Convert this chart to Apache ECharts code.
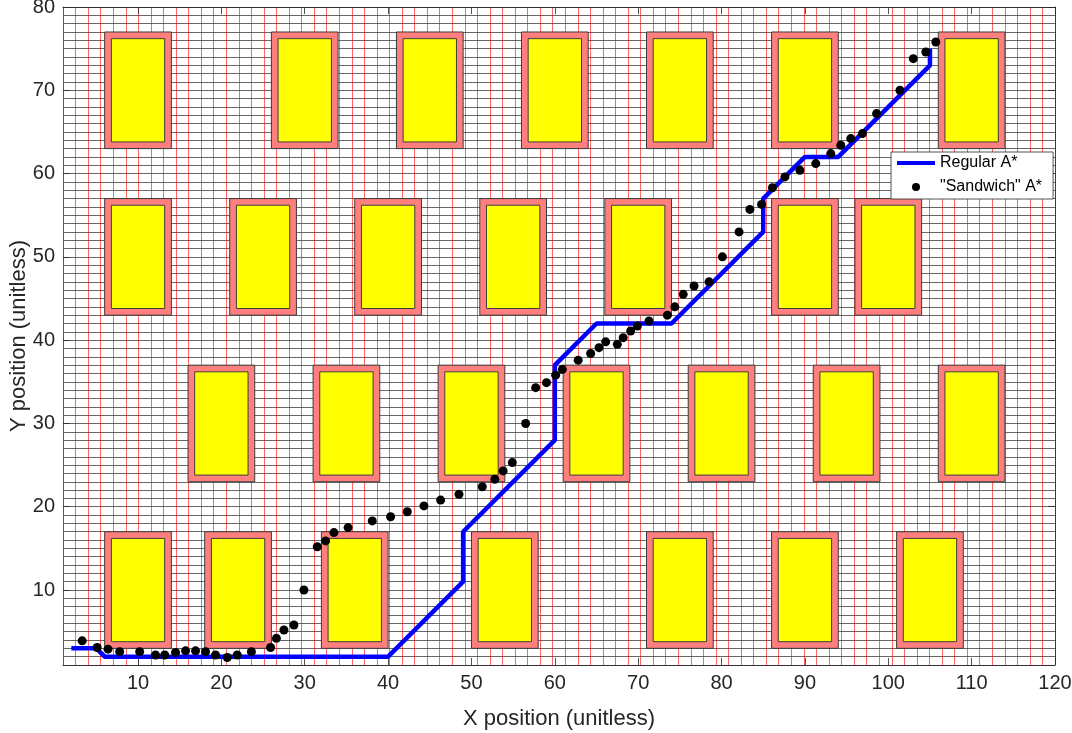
<!DOCTYPE html>
<html>
<head>
<meta charset="utf-8">
<script src="https://cdn.jsdelivr.net/npm/echarts@6/dist/echarts.min.js"></script>
<style>
html, body { margin: 0; padding: 0; background: #fff; }
#chart { width: 1072px; height: 733px; }
</style>
</head>
<body>
<div id="chart"></div>
<script>
// obstacle centres (4 rows of 7)
var obsX = [10, 30, 45, 60, 75, 90, 110,
            10, 25, 40, 55, 70, 90, 100,
            20, 35, 50, 65, 80, 95, 110,
            10, 22, 36, 54, 75, 90, 105];
var obsY = [70, 70, 70, 70, 70, 70, 70,
            50, 50, 50, 50, 50, 50, 50,
            30, 30, 30, 30, 30, 30, 30,
            10, 10, 10, 10, 10, 10, 10];

// regular A* path vertices
var regX = [2, 5, 6, 40, 49, 49, 60, 60, 65, 74, 85, 85, 90, 94, 105, 105];
var regY = [3, 3, 2, 2, 11, 17, 28, 37, 42, 42, 53, 57, 62, 62, 73, 75];

// "sandwich" A* points
var sandX = [3.3, 5.1, 6.4, 7.8, 10.2, 12.1, 13.2, 14.5, 15.7, 16.9, 18.1, 19.3, 20.7, 21.9, 23.6, 25.9, 26.6, 27.5, 28.7, 29.9,
             31.5, 32.5, 33.5, 35.2, 38.1, 40.3, 42.3, 44.3, 46.3, 48.5, 51.3, 52.8, 53.8, 54.9, 56.5,
             57.7, 59.0, 60.1, 60.9, 62.8, 64.3, 65.3, 66.1, 67.5, 68.2, 69.1, 69.9, 71.3, 73.5, 74.4, 75.4, 76.7, 78.5, 80.1, 82.1, 83.4, 84.8, 86.1,
             87.6, 89.4, 91.3, 93.1, 94.3, 95.5, 96.9, 98.6, 101.4, 103.0, 104.5, 105.7];
var sandY = [3.9, 3.1, 2.9, 2.6, 2.6, 2.2, 2.2, 2.5, 2.7, 2.7, 2.6, 2.2, 1.9, 2.2, 2.6, 3.1, 4.2, 5.2, 5.8, 10.0,
             15.2, 15.9, 16.9, 17.5, 18.3, 18.8, 19.4, 20.1, 20.8, 21.5, 22.4, 23.3, 24.3, 25.3, 30.0,
             34.3, 34.9, 35.8, 36.5, 37.6, 38.4, 39.1, 39.8, 39.5, 40.3, 41.1, 41.7, 42.3, 43.0, 44.0, 45.5, 46.5, 47.0, 50.0, 53.0, 55.7, 56.3, 58.3,
             59.6, 60.4, 61.2, 62.4, 63.4, 64.2, 64.8, 67.2, 70.0, 73.8, 74.6, 75.8];

// tick labels
var xTicks = [10, 20, 30, 40, 50, 60, 70, 80, 90, 100, 110, 120];
var yTicks = [10, 20, 30, 40, 50, 60, 70, 80];

// mesh size (nodes per direction)
var meshCols = 80;
var meshRows = 80;

var X_MIN = 1, X_MAX = 120, Y_MIN = 1, Y_MAX = 80;
var FONT = '"Liberation Sans", Arial, Helvetica, sans-serif';
var AXIS_COL = '#262626';

// obstacle half sizes
var OUT_W = 4, OUT_H = 7, IN_W = 3.2, IN_H = 6.2;

function rectFrom(api, cx, cy, hw, hh) {
  var p0 = api.coord([cx - hw, cy + hh]);
  var p1 = api.coord([cx + hw, cy - hh]);
  return { x: p0[0], y: p0[1], width: p1[0] - p0[0], height: p1[1] - p0[1] };
}

var obstacleData = obsX.map(function (x, i) { return [x, obsY[i]]; });
var regData = regX.map(function (x, i) { return [x, regY[i]]; });
var sandData = sandX.map(function (x, i) { return [x, sandY[i]]; });

var labelStyle = { fontSize: 20, color: AXIS_COL, fontFamily: FONT };

var option = {
  animation: false,
  backgroundColor: '#fff',
  grid: { left: 63, right: 17, top: 7, bottom: 68, outerBoundsMode: 'none', containLabel: false },
  legend: {
    orient: 'vertical',
    left: 891,
    top: 152,
    padding: [3, 11, 4, 4],
    itemWidth: 38,
    itemHeight: 8,
    itemGap: 8,
    backgroundColor: '#fff',
    borderColor: AXIS_COL,
    borderWidth: 0.8,
    borderRadius: 0,
    textStyle: { fontSize: 16, color: '#000', fontFamily: FONT },
    data: [
      { name: 'Regular A*', itemStyle: { opacity: 0 }, lineStyle: { width: 4, color: '#0000ff' } },
      { name: '"Sandwich" A*' }
    ]
  },
  xAxis: [
    {
      type: 'value', min: X_MIN, max: X_MAX, position: 'bottom',
      name: 'X position (unitless)', nameLocation: 'middle', nameGap: 43, nameMoveOverlap: false,
      nameTextStyle: { fontSize: 22, color: AXIS_COL, fontFamily: FONT },
      axisLine: { show: true, lineStyle: { color: AXIS_COL, width: 0.8 } },
      axisTick: { show: true, inside: true, length: 7, customValues: xTicks, lineStyle: { color: AXIS_COL, width: 0.8 } },
      axisLabel: Object.assign({ margin: 8, customValues: xTicks }, labelStyle),
      splitLine: { show: false }
    },
    {
      type: 'value', min: X_MIN, max: X_MAX, position: 'top',
      axisLine: { show: true, lineStyle: { color: AXIS_COL, width: 0.8 } },
      axisTick: { show: true, inside: true, length: 7, customValues: xTicks, lineStyle: { color: AXIS_COL, width: 0.8 } },
      axisLabel: { show: false },
      splitLine: { show: false }
    },
    {
      // red mesh lines
      type: 'value', min: X_MIN, max: X_MAX, interval: (X_MAX - X_MIN) / (meshCols - 1),
      axisLine: { show: false }, axisTick: { show: false }, axisLabel: { show: false },
      splitLine: { show: true, lineStyle: { color: '#ff0000', width: 0.6 } }
    }
  ],
  yAxis: [
    {
      type: 'value', min: Y_MIN, max: Y_MAX, position: 'left',
      name: 'Y position (unitless)', nameLocation: 'middle', nameGap: 33, nameMoveOverlap: false,
      nameTextStyle: { fontSize: 22, color: AXIS_COL, fontFamily: FONT },
      axisLine: { show: true, lineStyle: { color: '#ff0000', width: 0.8 } },
      axisTick: { show: true, inside: true, length: 7, customValues: yTicks, lineStyle: { color: AXIS_COL, width: 0.8 } },
      axisLabel: Object.assign({ margin: 8, customValues: yTicks }, labelStyle),
      splitLine: { show: false }
    },
    {
      type: 'value', min: Y_MIN, max: Y_MAX, position: 'right',
      axisLine: { show: true, lineStyle: { color: AXIS_COL, width: 0.8 } },
      axisTick: { show: true, inside: true, length: 7, customValues: yTicks, lineStyle: { color: AXIS_COL, width: 0.8 } },
      axisLabel: { show: false },
      splitLine: { show: false }
    },
    {
      // black mesh lines
      type: 'value', min: Y_MIN, max: Y_MAX, interval: (Y_MAX - Y_MIN) / (meshRows - 1),
      axisLine: { show: false }, axisTick: { show: false }, axisLabel: { show: false },
      splitLine: { show: true, lineStyle: { color: '#000000', width: 0.6 } }
    }
  ],
  series: [
    {
      type: 'custom',
      name: 'obstacles',
      xAxisIndex: 0, yAxisIndex: 0,
      z: 2,
      silent: true,
      data: obstacleData,
      renderItem: function (params, api) {
        var cx = api.value(0), cy = api.value(1);
        return {
          type: 'group',
          children: [
            { type: 'rect', shape: rectFrom(api, cx, cy, OUT_W, OUT_H),
              style: { fill: '#ff7f7f', stroke: '#3c3c3c', lineWidth: 1 } },
            { type: 'rect', shape: rectFrom(api, cx, cy, IN_W, IN_H),
              style: { fill: '#ffff00', stroke: '#3c3c3c', lineWidth: 1 } }
          ]
        };
      }
    },
    {
      type: 'line',
      name: 'Regular A*',
      xAxisIndex: 0, yAxisIndex: 0,
      z: 3,
      symbol: 'none',
      data: regData,
      itemStyle: { color: '#0000ff' },
      lineStyle: { color: '#0000ff', width: 4.5 }
    },
    {
      type: 'scatter',
      name: '"Sandwich" A*',
      xAxisIndex: 0, yAxisIndex: 0,
      z: 4,
      symbol: 'circle',
      symbolSize: 9,
      data: sandData,
      itemStyle: { color: '#000000', opacity: 1 }
    }
  ]
};

var myChart = echarts.init(document.getElementById('chart'));
myChart.setOption(option);
</script>
</body>
</html>
